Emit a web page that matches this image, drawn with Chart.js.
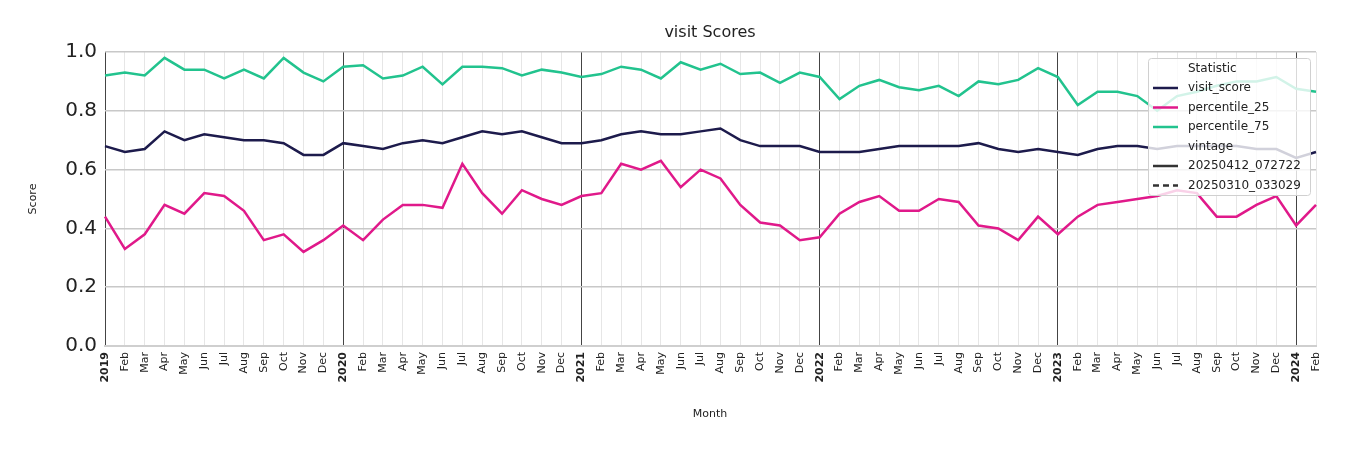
<!DOCTYPE html>
<html><head><meta charset="utf-8">
<script src="https://cdn.jsdelivr.net/npm/chart.js@4"></script>
<style>html,body{margin:0;padding:0;background:#fff}#w{width:1350px;height:450px}</style>
</head><body><div id="w"><canvas id="c"></canvas></div>
<script>
const monthNames = ['Jan','Feb','Mar','Apr','May','Jun','Jul','Aug','Sep','Oct','Nov','Dec'];
const years = [2019,2020,2021,2022,2023,2024];
const categories = [];
years.forEach(y => monthNames.forEach((m,i) => { if (y < 2024 || i < 2) categories.push(i === 0 ? String(y) : m); }));
const visitScore = [0.68,0.66,0.67,0.73,0.70,0.72,0.71,0.70,0.70,0.69,0.65,0.65,
 0.69,0.68,0.67,0.69,0.70,0.69,0.71,0.73,0.72,0.73,0.71,0.69,
 0.69,0.70,0.72,0.73,0.72,0.72,0.73,0.74,0.70,0.68,0.68,0.68,
 0.66,0.66,0.66,0.67,0.68,0.68,0.68,0.68,0.69,0.67,0.66,0.67,
 0.66,0.65,0.67,0.68,0.68,0.67,0.68,0.68,0.68,0.68,0.67,0.67,
 0.64,0.66];
const percentile25 = [0.44,0.33,0.38,0.48,0.45,0.52,0.51,0.46,0.36,0.38,0.32,0.36,
 0.41,0.36,0.43,0.48,0.48,0.47,0.62,0.52,0.45,0.53,0.50,0.48,
 0.51,0.52,0.62,0.60,0.63,0.54,0.60,0.57,0.48,0.42,0.41,0.36,
 0.37,0.45,0.49,0.51,0.46,0.46,0.50,0.49,0.41,0.40,0.36,0.44,
 0.38,0.44,0.48,0.49,0.50,0.51,0.53,0.52,0.44,0.44,0.48,0.51,
 0.41,0.48];
const percentile75 = [0.92,0.93,0.92,0.98,0.94,0.94,0.91,0.94,0.91,0.98,0.93,0.90,
 0.95,0.955,0.91,0.92,0.95,0.89,0.95,0.95,0.945,0.92,0.94,0.93,
 0.915,0.925,0.95,0.94,0.91,0.965,0.94,0.96,0.925,0.93,0.895,0.93,
 0.915,0.84,0.885,0.905,0.88,0.87,0.885,0.85,0.90,0.89,0.905,0.945,
 0.915,0.82,0.865,0.865,0.85,0.80,0.85,0.865,0.885,0.90,0.90,0.915,
 0.875,0.865];
const yTicks = [0,0.2,0.4,0.6,0.8,1.0];
const NAVY='#1d1b4c', PINK='#e0198a', GREEN='#22c38e';

const overlay = {
  id:'overlay',
  afterDraw(chart){
    const ctx = chart.ctx;
    ctx.save();
    ctx.fillStyle='#222'; ctx.font='16px "DejaVu Sans"'; ctx.textAlign='center'; ctx.textBaseline='middle';
    ctx.fillText('visit Scores', 710, 33);
    ctx.font='11px "DejaVu Sans"';
    ctx.fillText('Month', 710, 414);
    ctx.save(); ctx.translate(33,199); ctx.rotate(-Math.PI/2); ctx.fillText('Score',0,0); ctx.restore();
    // legend
    const x=1148,y=58,w=162,h=137;
    ctx.fillStyle='rgba(255,255,255,0.8)'; ctx.strokeStyle='#d0d0d0'; ctx.lineWidth=1;
    ctx.beginPath(); ctx.roundRect(x+0.5,y+0.5,w,h,3); ctx.fill(); ctx.stroke();
    ctx.font='12px "DejaVu Sans"'; ctx.textAlign='left'; ctx.fillStyle='#222';
    ctx.fillText('Statistic', 1188, 69);
    const rows=[['visit_score',NAVY,null],['percentile_25',PINK,null],['percentile_75',GREEN,null],['vintage',null,null],['20250412_072722','#333',[]],['20250310_033029','#333',[6,4]]];
    rows.forEach((r,i)=>{
      const yy=88+i*19.5;
      if(r[1]){ctx.strokeStyle=r[1];ctx.lineWidth=2.5;ctx.setLineDash(r[2]||[]);ctx.beginPath();ctx.moveTo(1153,yy);ctx.lineTo(1178,yy);ctx.stroke();ctx.setLineDash([]);}
      ctx.fillStyle='#222'; ctx.fillText(r[0], 1188, yy);
    });
    ctx.restore();
  }
};

new Chart(document.getElementById('c'), {
  type:'line',
  data:{labels:categories,datasets:[
    {label:'percentile_75',data:percentile75,borderColor:GREEN,borderWidth:2.5,pointRadius:0,tension:0},
    {label:'percentile_25',data:percentile25,borderColor:PINK,borderWidth:2.5,pointRadius:0,tension:0},
    {label:'visit_score',data:visitScore,borderColor:NAVY,borderWidth:2.5,pointRadius:0,tension:0}
  ]},
  options:{
    responsive:true,maintainAspectRatio:false,animation:false,
    layout:{padding:{top:52,right:34,left:0,bottom:0}},
    plugins:{legend:{display:false},title:{display:false},tooltip:{enabled:false}},
    scales:{
      x:{offset:false,
        grid:{color:c=>(c.index%12===0?'#444':'#e6e6e6'),lineWidth:1,drawTicks:false},
        border:{color:'#cfcfcf',width:2},
        ticks:{autoSkip:false,maxRotation:90,minRotation:90,color:'#222',padding:6,
          font:c=>{const l=categories[c.index]||'';return /^\d{4}$/.test(l)?{family:'DejaVu Sans',size:11,weight:'bold'}:{family:'DejaVu Sans',size:11};}},
        afterFit:s=>{s.height=104;}
      },
      y:{min:0,max:1,
        afterBuildTicks:s=>{s.ticks=yTicks.map(v=>({value:v}));},
        grid:{color:'#c8c8c8',lineWidth:1.5,drawTicks:false},
        border:{display:false},
        ticks:{color:'#222',padding:8,font:{family:'DejaVu Sans',size:20},callback:v=>v.toFixed(1)},
        afterFit:s=>{s.width=105;}
      }
    }
  },
  plugins:[overlay]
});
</script></body></html>
